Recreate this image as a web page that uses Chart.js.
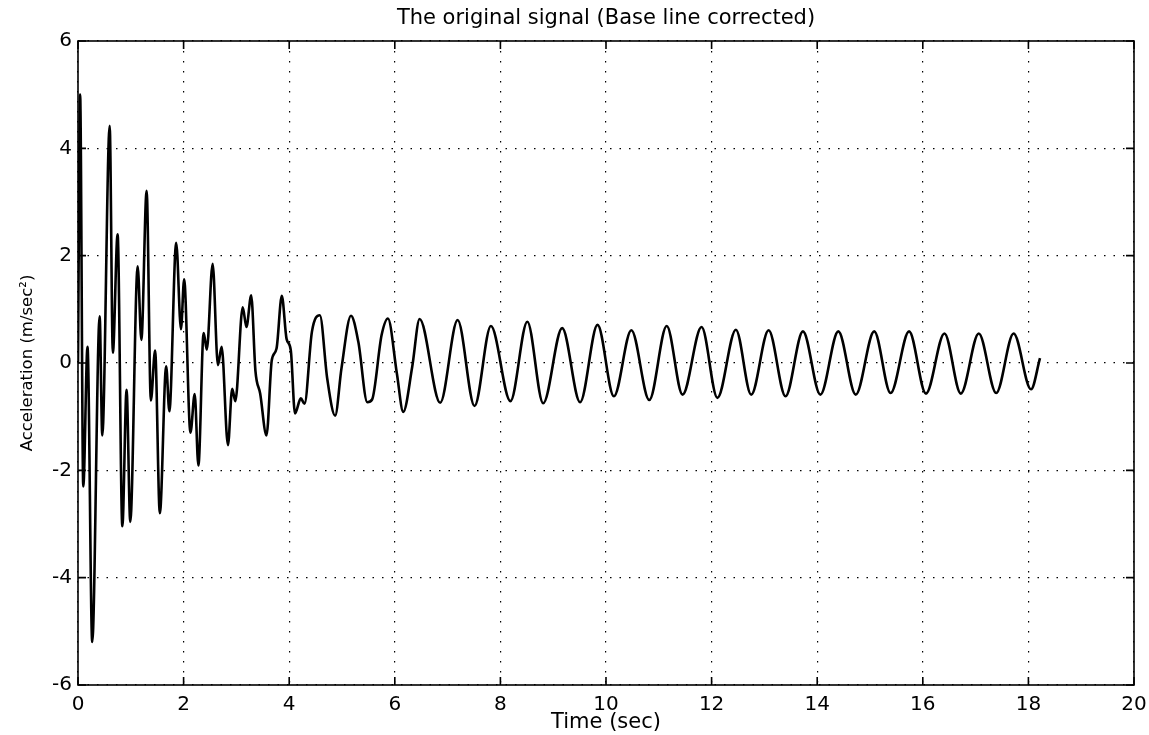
<!DOCTYPE html>
<html>
<head>
<meta charset="utf-8">
<script src="https://cdn.jsdelivr.net/npm/chart.js@4"></script>
<style>
  html, body { margin: 0; padding: 0; background: #fff; }
  #wrap { width: 1149px; height: 735px; }
</style>
</head>
<body>
<div id="wrap"><canvas id="signal"></canvas></div>
<script>
// time (sec) and acceleration (m/sec^2) at peaks / troughs
const times = [0, 0.04, 0.10, 0.18, 0.27, 0.41, 0.46, 0.60, 0.66, 0.75,
  0.84, 0.92, 0.99, 1.13, 1.20, 1.30, 1.38, 1.46, 1.55, 1.67,
  1.73, 1.86, 1.95, 2.01, 2.13, 2.21, 2.28,
  2.38, 2.44, 2.55, 2.65, 2.72, 2.84, 2.92, 2.98, 3.12, 3.19,
  3.28, 3.36, 3.45, 3.57, 3.67, 3.76, 3.86, 3.95, 4.03, 4.11,
  4.22, 4.29, 4.43, 4.58, 4.72, 4.87, 4.99, 5.17, 5.31, 5.48,
  5.57, 5.75, 5.87, 6.04, 6.16, 6.33, 6.47,
  6.86, 7.19, 7.51, 7.82, 8.19, 8.51, 8.81, 9.17, 9.51, 9.84,
  10.15, 10.48, 10.82, 11.15, 11.45, 11.81, 12.11, 12.46, 12.75, 13.08,
  13.40, 13.73, 14.06, 14.40, 14.73, 15.08, 15.39, 15.74, 16.06, 16.41,
  16.72, 17.06, 17.39, 17.72, 18.05, 18.22];

const accel = [0, 5.0, -2.3, 0.3, -5.2, 0.87, -1.35, 4.42, 0.19, 2.4,
  -3.04, -0.5, -2.96, 1.8, 0.43, 3.21, -0.7, 0.23, -2.8, -0.06,
  -0.9, 2.24, 0.63, 1.56, -1.3, -0.58, -1.91,
  0.56, 0.25, 1.85, -0.04, 0.3, -1.53, -0.48, -0.71, 1.04, 0.67,
  1.26, -0.14, -0.57, -1.35, 0.05, 0.27, 1.25, 0.45, 0.24, -0.94,
  -0.66, -0.76, 0.58, 0.89, -0.29, -0.98, -0.1, 0.88, 0.39, -0.73,
  -0.68, 0.52, 0.83, -0.2, -0.91, -0.07, 0.82,
  -0.74, 0.80, -0.80, 0.69, -0.71, 0.77, -0.75, 0.65, -0.73, 0.71,
  -0.62, 0.61, -0.69, 0.69, -0.59, 0.67, -0.65, 0.62, -0.59, 0.61,
  -0.62, 0.59, -0.59, 0.59, -0.59, 0.59, -0.56, 0.59, -0.57, 0.55,
  -0.57, 0.55, -0.56, 0.55, -0.49, 0.09];

const xTicks = [0, 2, 4, 6, 8, 10, 12, 14, 16, 18, 20];
const yTicks = [-6, -4, -2, 0, 2, 4, 6];

const tickFont = { family: 'DejaVu Sans', size: 20 };

// matlab style box with inward tick marks
const frame = {
  id: 'frame',
  afterDraw(chart) {
    const { ctx, chartArea: a, scales } = chart;
    const len = 8;
    ctx.save();
    ctx.strokeStyle = '#000';
    ctx.lineWidth = 1.6;
    ctx.strokeRect(a.left, a.top, a.right - a.left, a.bottom - a.top);
    ctx.beginPath();
    xTicks.forEach(v => {
      const px = scales.x.getPixelForValue(v);
      ctx.moveTo(px, a.bottom); ctx.lineTo(px, a.bottom - len);
      ctx.moveTo(px, a.top); ctx.lineTo(px, a.top + len);
    });
    yTicks.forEach(v => {
      const py = scales.y.getPixelForValue(v);
      ctx.moveTo(a.left, py); ctx.lineTo(a.left + len, py);
      ctx.moveTo(a.right, py); ctx.lineTo(a.right - len, py);
    });
    ctx.stroke();
    ctx.restore();
  }
};

new Chart(document.getElementById('signal'), {
  type: 'line',
  data: {
    datasets: [{
      data: times.map((t, i) => ({ x: t, y: accel[i] })),
      borderColor: '#000',
      borderWidth: 2.6,
      pointRadius: 0,
      cubicInterpolationMode: 'monotone',
      fill: false
    }]
  },
  options: {
    responsive: true,
    maintainAspectRatio: false,
    animation: false,
    layout: { padding: { left: 0, right: 15, top: 0, bottom: 0 } },
    plugins: {
      legend: { display: false },
      tooltip: { enabled: false },
      title: { display: false }
    },
    scales: {
      x: {
        type: 'linear',
        min: 0,
        max: 20,
        afterBuildTicks: s => { s.ticks = xTicks.map(v => ({ value: v })); },
        afterFit: s => { s.height = 50; s.paddingLeft = 0; s.paddingRight = 0; },
        grid: { color: '#000', lineWidth: 1.2, drawTicks: false },
        border: { display: false, dash: [1.5, 8.5] },
        ticks: { color: '#000', padding: 8, font: tickFont, maxRotation: 0 },
        title: { display: true, text: 'Time (sec)', color: '#000', font: { family: 'DejaVu Sans', size: 21 }, padding: { top: 0, bottom: 0 } }
      },
      // top axis only carries the title, centred over the plot box
      top: {
        type: 'linear',
        position: 'top',
        min: 0,
        max: 20,
        afterFit: s => { s.height = 41; s.paddingLeft = 0; s.paddingRight = 0; },
        grid: { display: false },
        border: { display: false },
        ticks: { display: false },
        title: { display: true, text: 'The original signal (Base line corrected)', color: '#000', font: { family: 'DejaVu Sans', size: 21 }, padding: { top: 6, bottom: 0 } }
      },
      y: {
        type: 'linear',
        min: -6,
        max: 6,
        afterBuildTicks: s => { s.ticks = yTicks.map(v => ({ value: v })); },
        afterFit: s => { s.width = 78; },
        grid: { color: '#000', lineWidth: 1.2, drawTicks: false },
        border: { display: false, dash: [1.5, 8] },
        ticks: { color: '#000', padding: 6, font: tickFont },
        title: { display: true, text: 'Acceleration (m/sec²)', color: '#000', font: { family: 'DejaVu Sans', size: 16.5 }, padding: { top: 18, bottom: 0 } }
      }
    }
  },
  plugins: [frame]
});
</script>
</body>
</html>
